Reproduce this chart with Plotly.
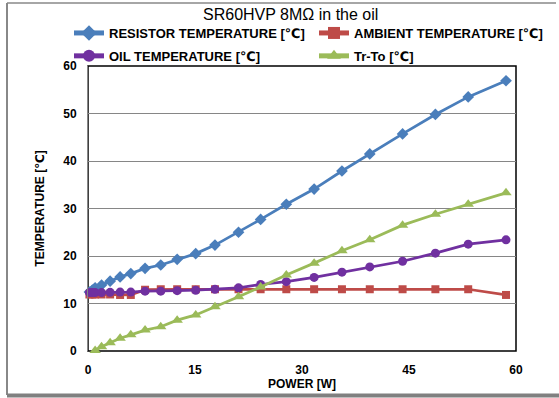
import plotly.graph_objects as go

power = [0.2, 0.6, 1.0, 1.9, 3.1, 4.5, 6.0, 8.0, 10.2, 12.5, 15.1, 17.8, 21.1, 24.2, 27.8, 31.7, 35.6, 39.5, 44.1, 48.7, 53.3, 58.6]
resistor = [12.4, 12.8, 13.3, 13.9, 14.7, 15.6, 16.3, 17.4, 18.1, 19.3, 20.5, 22.3, 25.0, 27.7, 30.9, 34.1, 37.9, 41.5, 45.7, 49.8, 53.5, 56.9]
ambient = [11.9, 11.9, 11.9, 11.9, 11.9, 11.8, 11.8, 12.9, 13.0, 13.0, 13.0, 13.0, 13.0, 13.0, 13.0, 13.0, 13.0, 13.0, 13.0, 13.0, 13.0, 11.8]
oil = [12.3, 12.3, 12.3, 12.3, 12.35, 12.4, 12.4, 12.6, 12.6, 12.7, 12.8, 13.0, 13.3, 14.0, 14.6, 15.5, 16.6, 17.7, 18.9, 20.6, 22.5, 23.4]
tr_to = [None, None, 0.1, 0.9, 1.75, 2.7, 3.4, 4.4, 5.1, 6.5, 7.6, 9.3, 11.4, 13.5, 16.0, 18.5, 21.1, 23.4, 26.5, 28.8, 30.9, 33.3]

names = ["RESISTOR TEMPERATURE [℃]", "AMBIENT TEMPERATURE [℃]", "OIL TEMPERATURE [℃]", "Tr-To [℃]"]
x_ticks = [0, 15, 30, 45, 60]
y_ticks = [0, 10, 20, 30, 40, 50, 60]

FONT = "Liberation Sans, Arial, DejaVu Sans, sans-serif"

fig = go.Figure()
series = [
    (resistor, names[0], "#4A7EBB", "diamond", 9, "legend"),
    (ambient, names[1], "#BE4B48", "square", 8, "legend2"),
    (oil, names[2], "#7030A0", "circle", 9, "legend"),
    (tr_to, names[3], "#9BBB59", "triangle-up", 10, "legend2"),
]
for i, (vals, name, col, sym, sz, leg) in enumerate(series):
    fig.add_trace(go.Scatter(
        x=power, y=vals, name=name, mode="lines+markers",
        line=dict(color=col, width=2.75),
        marker=dict(symbol=sym, size=sz, color=col, line=dict(width=0)),
        cliponaxis=False, legend=leg, legendgroup="g%d" % i,
    ))

leg_common = dict(orientation="v", yanchor="top", xanchor="left",
                  font=dict(size=13, family=FONT, color="black", weight="bold"),
                  bgcolor="rgba(0,0,0,0)", itemsizing="constant", traceorder="grouped",
                  tracegroupgap=3)

fig.update_layout(
    width=559, height=398,
    margin=dict(l=88, r=43, t=66, b=47, autoexpand=False),
    paper_bgcolor="white", plot_bgcolor="white",
    font=dict(family=FONT, color="black"),
    title=dict(text="SR60HVP 8MΩ in the oil", x=0.52, xref="container", xanchor="center",
               y=1 - 14 / 398, yref="container", yanchor="middle",
               font=dict(size=16, family=FONT, color="black")),
    showlegend=True,
    legend=dict(x=(69 - 88) / 428, y=(351 - 18) / 285, **leg_common),
    legend2=dict(x=(314 - 88) / 428, y=(351 - 18) / 285, **leg_common),
    xaxis=dict(range=[0, 60], tickvals=x_ticks, ticktext=[str(v) for v in x_ticks],
               showgrid=False, zeroline=False, showline=False, ticks="",
               ticklabelstandoff=10,
               tickfont=dict(size=12, family=FONT, weight="bold"),
               title=dict(text="POWER [W]", standoff=0, font=dict(size=12, family=FONT, weight="bold"))),
    yaxis=dict(range=[0, 60], tickvals=y_ticks, ticktext=[str(v) for v in y_ticks],
               showgrid=True, gridcolor="#868686", gridwidth=1, zeroline=False,
               showline=True, linecolor="#868686", linewidth=1, ticks="",
               ticklabelstandoff=8,
               tickfont=dict(size=12, family=FONT, weight="bold"),
               title=dict(text="TEMPERATURE [℃]", standoff=16, font=dict(size=12, family=FONT, weight="bold"))),
)

# plot area border
fig.add_shape(type="rect", xref="x domain", yref="y domain", x0=0, x1=1, y0=0, y1=1,
              line=dict(color="black", width=1.5), layer="below")
# outer chart frame
fig.add_shape(type="line", xref="paper", yref="paper",
              x0=-81 / 428, x1=-81 / 428, y0=-44 / 285, y1=(351 - 3) / 285,
              line=dict(color="#888888", width=2))
fig.add_shape(type="line", xref="paper", yref="paper",
              x0=-81 / 428, x1=(556 - 88) / 428, y0=(351 - 3) / 285, y1=(351 - 3) / 285,
              line=dict(color="#888888", width=1.5))
fig.add_shape(type="line", xref="paper", yref="paper",
              x0=-81 / 428, x1=(559 - 88) / 428, y0=-44.5 / 285, y1=-44.5 / 285,
              line=dict(color="#808080", width=4))

fig.write_html("out.html")
